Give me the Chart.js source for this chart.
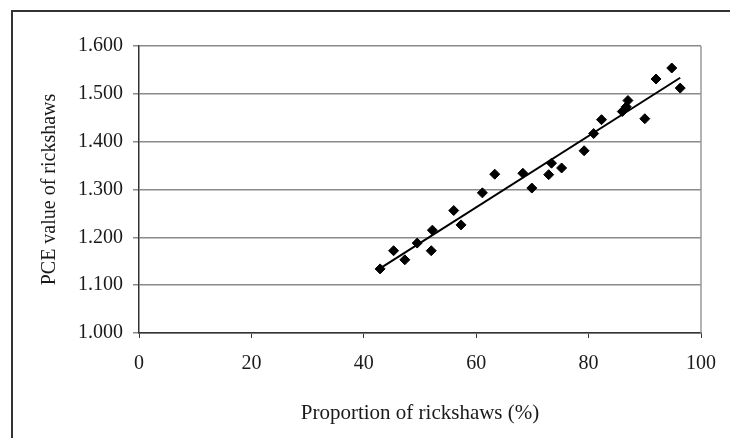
<!DOCTYPE html>
<html>
<head>
<meta charset="utf-8">
<script src="https://cdn.jsdelivr.net/npm/chart.js@4/dist/chart.umd.min.js"></script>
<style>
  html, body { margin: 0; padding: 0; background: #fff; }
  #wrap { position: relative; width: 730px; height: 438px; overflow: hidden; }
  #frame { position: absolute; left: 11px; top: 10px; width: 740px; height: 440px;
           border-left: 2px solid #333; border-top: 2px solid #333; box-sizing: border-box; }
  canvas { position: absolute; left: 0; top: 0; }
</style>
</head>
<body>
<div id="wrap">
  <div id="frame"></div>
  <canvas id="c" width="730" height="438"></canvas>
</div>
<script>
// Proportion of rickshaws (%)
const proportion = [42.9, 45.3, 47.3, 49.5, 52.0, 52.2, 56.0, 57.3, 61.1, 63.3, 68.3, 69.9, 72.9, 73.4, 75.2, 79.2, 80.9, 82.3, 86.0, 86.7, 87.0, 90.0, 92.0, 94.8, 96.3];
// PCE value of rickshaws
const pce = [1.134, 1.172, 1.153, 1.188, 1.172, 1.215, 1.256, 1.226, 1.293, 1.332, 1.334, 1.303, 1.331, 1.355, 1.345, 1.381, 1.417, 1.446, 1.463, 1.473, 1.486, 1.448, 1.531, 1.554, 1.512];
const xTicks = [0, 20, 40, 60, 80, 100];
const yTicks = [1.0, 1.1, 1.2, 1.3, 1.4, 1.5, 1.6];

// Linear trend line (least squares) over the observed range
const n = proportion.length;
const mx = proportion.reduce((a, b) => a + b, 0) / n;
const my = pce.reduce((a, b) => a + b, 0) / n;
let sxy = 0, sxx = 0;
for (let i = 0; i < n; i++) { sxy += (proportion[i] - mx) * (pce[i] - my); sxx += (proportion[i] - mx) ** 2; }
const slope = sxy / sxx, icpt = my - slope * mx;
const xMin = Math.min(...proportion), xMax = Math.max(...proportion);
const trend = [{x: xMin, y: icpt + slope * xMin}, {x: xMax, y: icpt + slope * xMax}];

const points = proportion.map((x, i) => ({x, y: pce[i]}));

const rightBorder = {
  id: 'rightBorder',
  afterDraw(chart) {
    const {ctx, chartArea: a} = chart;
    ctx.save();
    ctx.strokeStyle = '#999';
    ctx.lineWidth = 1.5;
    ctx.beginPath();
    ctx.moveTo(a.right, a.top);
    ctx.lineTo(a.right, a.bottom);
    ctx.stroke();
    ctx.restore();
  }
};

const font = { family: '"Liberation Serif", "DejaVu Serif", serif', size: 20 };
const xTitleFont = { family: '"Liberation Serif", "DejaVu Serif", serif', size: 21 };

new Chart(document.getElementById('c'), {
  type: 'scatter',
  data: {
    datasets: [
      {
        label: 'PCE',
        data: points,
        pointStyle: 'rectRot',
        pointRadius: 5,
        pointBackgroundColor: '#000',
        pointBorderColor: '#000',
        pointBorderWidth: 1,
        order: 2
      },
      {
        label: 'Trend',
        type: 'line',
        data: trend,
        borderColor: '#000',
        borderWidth: 2,
        pointRadius: 0,
        fill: false,
        order: 1
      }
    ]
  },
  plugins: [rightBorder],
  options: {
    responsive: false,
    animation: false,
    devicePixelRatio: 1,
    layout: { padding: { left: 0, top: 46, right: 23, bottom: 0 } },
    plugins: { legend: { display: false }, tooltip: { enabled: false } },
    scales: {
      x: {
        type: 'linear',
        min: 0, max: 100,
        afterBuildTicks: (s) => { s.ticks = xTicks.map(v => ({value: v})); },
        afterFit: (s) => { s.height = 105; },
        ticks: { color: '#1a1a1a', font, padding: 14 },
        grid: { drawOnChartArea: false, drawTicks: true, tickLength: 5, color: '#333' },
        border: { color: '#333', width: 1.5 },
        title: { display: true, text: 'Proportion of rickshaws (%)', color: '#1a1a1a', font: xTitleFont, padding: { top: 12, bottom: 12 } }
      },
      y: {
        type: 'linear',
        min: 1.0, max: 1.6,
        afterBuildTicks: (s) => { s.ticks = yTicks.map(v => ({value: v})); },
        afterFit: (s) => { s.width = 139; },
        ticks: { color: '#1a1a1a', font, padding: 10, callback: v => Number(v).toFixed(3) },
        grid: { color: '#8a8a8a', lineWidth: 1.5, drawTicks: true, tickLength: 6 },
        border: { color: '#333', width: 1.5 },
        title: { display: true, text: 'PCE value of rickshaws', color: '#1a1a1a', font, padding: { top: 38, bottom: 38 } }
      }
    }
  }
});
</script>
</body>
</html>
